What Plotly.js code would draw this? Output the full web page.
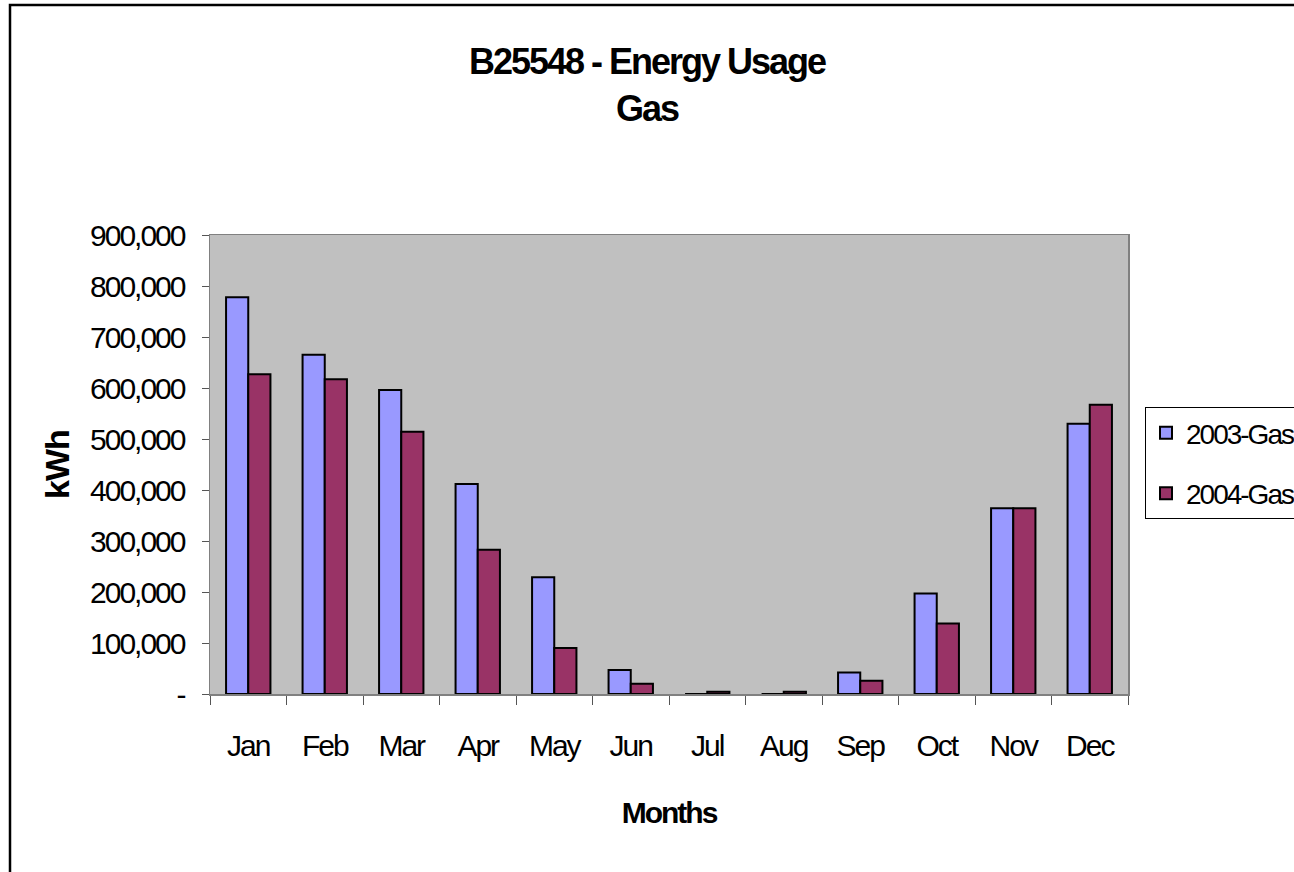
<!DOCTYPE html>
<html>
<head>
<meta charset="utf-8">
<script src="https://cdn.plot.ly/plotly-3.0.1.min.js"></script>
<style>
  html, body { margin: 0; padding: 0; background: #fff; }
  #chart { width: 1294px; height: 872px; }
  .gtitle { letter-spacing: -2px; }
  .xtick text, .ytick text { letter-spacing: -2px; }
  .legendtext { letter-spacing: -2px; }
  .xtitle { letter-spacing: -2px; }
  .ytitle { letter-spacing: -1px; }
</style>
</head>
<body>
<div id="chart"></div>
<script>
const months = ["Jan","Feb","Mar","Apr","May","Jun","Jul","Aug","Sep","Oct","Nov","Dec"];
const gas2003 = [778000, 665000, 596000, 412000, 229000, 47000, 0, 0, 42000, 197000, 364000, 530000];
const gas2004 = [627000, 617000, 514000, 283000, 90000, 20000, 4500, 4500, 26000, 138000, 364000, 567000];
const seriesNames = ["2003-Gas", "2004-Gas"];
const yTickVals = [0, 100000, 200000, 300000, 400000, 500000, 600000, 700000, 800000, 900000];
const yTickText = ["-", "100,000", "200,000", "300,000", "400,000", "500,000", "600,000", "700,000", "800,000", "900,000"];

const FONT = '"Liberation Sans", Arial, Helvetica, sans-serif';

const traces = [
  {
    type: "bar", name: seriesNames[0], x: months, y: gas2003,
    marker: { color: "#9999FF", line: { color: "#000000", width: 2 } },
    legendgroup: "a"
  },
  {
    type: "bar", name: seriesNames[1], x: months, y: gas2004,
    marker: { color: "#993366", line: { color: "#000000", width: 2 } },
    legendgroup: "b"
  }
];

const layout = {
  width: 1294, height: 872,
  margin: { l: 210, r: 166, t: 235, b: 178, autoexpand: false },
  paper_bgcolor: "#FFFFFF",
  plot_bgcolor: "#C0C0C0",
  font: { family: FONT, color: "#000000" },
  barmode: "group",
  bargap: 0.42,
  bargroupgap: 0,
  title: {
    text: "<b>B25548 - Energy Usage</b><br><b>Gas</b>",
    font: { family: FONT, size: 36, color: "#000" },
    x: 0.5, xanchor: "center",
    y: 1 - 74 / 872, yanchor: "top", yref: "container"
  },
  xaxis: {
    type: "category",
    tickson: "boundaries",
    ticks: "outside", ticklen: 9, tickcolor: "#555", tickwidth: 1,
    showline: true, linecolor: "#808080", linewidth: 1.5, mirror: true,
    showgrid: false, zeroline: false,
    tickfont: { family: FONT, size: 30, color: "#000" },
    ticklabelstandoff: 24,
    title: { text: "<b>Months</b>", font: { family: FONT, size: 30, color: "#000" }, standoff: 41 },
    automargin: false
  },
  yaxis: {
    range: [0, 900000],
    tickvals: yTickVals, ticktext: yTickText,
    ticks: "outside", ticklen: 7, tickcolor: "#555", tickwidth: 1,
    showline: true, linecolor: "#808080", linewidth: 1.5, mirror: true,
    showgrid: false, zeroline: false,
    tickfont: { family: FONT, size: 30, color: "#000" },
    ticklabelstandoff: 11,
    title: { text: "<b>kWh</b>", font: { family: FONT, size: 34, color: "#000" }, standoff: 10 },
    automargin: false
  },
  showlegend: true,
  legend: {
    x: (1145 - 210) / 918, xanchor: "left",
    y: 0.625, yanchor: "top",
    bgcolor: "#FFFFFF",
    bordercolor: "#000000", borderwidth: 1,
    font: { family: FONT, size: 28, color: "#000" },
    traceorder: "grouped",
    tracegroupgap: 21,
    itemwidth: 30
  },
  shapes: [
    {
      type: "rect", xref: "paper", yref: "paper", layer: "above",
      x0: (10 - 210) / 918, x1: (1310 - 210) / 918,
      y0: (694 - 890) / 459, y1: (694 - 5) / 459,
      line: { color: "#000000", width: 2.5 }, fillcolor: "rgba(0,0,0,0)"
    }
  ]
};

Plotly.newPlot("chart", traces, layout, { displayModeBar: false, staticPlot: true });
</script>
</body>
</html>
